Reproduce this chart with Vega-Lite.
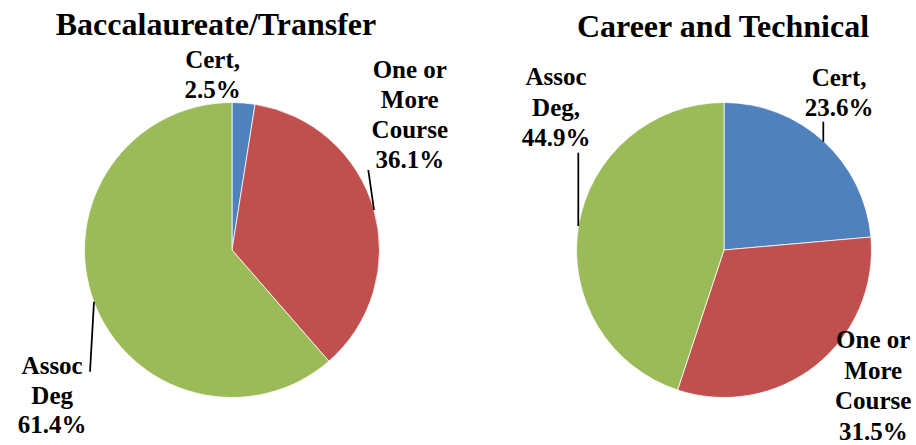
{
  "$schema": "https://vega.github.io/schema/vega-lite/v6.json",
  "width": 916,
  "height": 390,
  "autosize": {"type": "none"},
  "padding": {"top": 55, "left": 0, "right": 0, "bottom": 0},
  "config": {"view": {"stroke": null}, "text": {"font": "Liberation Serif", "fontSize": 25, "fontWeight": "bold", "lineHeight": 30, "align": "center", "baseline": "alphabetic", "color": "black"}},
  "data": {"values": [
    {"chart": "Baccalaureate/Transfer", "category": "Cert", "value": 2.5, "rank": 1, "label": ["Cert,", "2.5%"]},
    {"chart": "Baccalaureate/Transfer", "category": "One or More Course", "value": 36.1, "rank": 2, "label": ["One or", "More", "Course", "36.1%"]},
    {"chart": "Baccalaureate/Transfer", "category": "Assoc Deg", "value": 61.4, "rank": 3, "label": ["Assoc", "Deg", "61.4%"]},
    {"chart": "Career and Technical", "category": "Cert", "value": 23.6, "rank": 1, "label": ["Cert,", "23.6%"]},
    {"chart": "Career and Technical", "category": "One or More Course", "value": 31.5, "rank": 2, "label": ["One or", "More", "Course", "31.5%"]},
    {"chart": "Career and Technical", "category": "Assoc Deg", "value": 44.9, "rank": 3, "label": ["Assoc", "Deg,", "44.9%"]}
  ]},
  "layer": [
    {"transform": [{"filter": "datum.chart === 'Baccalaureate/Transfer'"}],
     "mark": {"type": "arc", "outerRadius": 147.5, "stroke": "white", "strokeWidth": 0.75},
     "encoding": {
       "x": {"field": "chart", "type": "nominal", "axis": null, "scale": {"type": "point", "domain": ["Baccalaureate/Transfer", "Career and Technical"], "range": [232, 724], "padding": 0}},
       "theta": {"field": "value", "type": "quantitative", "stack": true},
       "order": {"field": "rank", "type": "quantitative"},
       "color": {"field": "category", "type": "nominal", "legend": null, "scale": {"domain": ["Cert", "One or More Course", "Assoc Deg"], "range": ["#4F81BD", "#C0504D", "#9BBB59"]}}}},
    {"transform": [{"filter": "datum.chart === 'Career and Technical'"}],
     "mark": {"type": "arc", "outerRadius": 147.5, "stroke": "white", "strokeWidth": 0.75},
     "encoding": {
       "x": {"field": "chart", "type": "nominal", "axis": null},
       "theta": {"field": "value", "type": "quantitative", "stack": true},
       "order": {"field": "rank", "type": "quantitative"},
       "color": {"field": "category", "type": "nominal", "legend": null}}},

    {"transform": [{"filter": "datum.chart === 'Baccalaureate/Transfer'"}],
     "mark": {"type": "text", "radius": 160, "dx": -32, "dy": -22.5},
     "encoding": {"x": {"field": "chart", "type": "nominal"}, "theta": {"field": "value", "type": "quantitative", "stack": true}, "order": {"field": "rank", "type": "quantitative"}, "detail": {"field": "category"},
       "text": {"condition": {"test": "datum.category === 'Cert'", "field": "label"}, "value": ""}}},
    {"transform": [{"filter": "datum.chart === 'Baccalaureate/Transfer'"}],
     "mark": {"type": "text", "radius": 160, "dx": 24, "dy": -127.9},
     "encoding": {"x": {"field": "chart", "type": "nominal"}, "theta": {"field": "value", "type": "quantitative", "stack": true}, "order": {"field": "rank", "type": "quantitative"}, "detail": {"field": "category"},
       "text": {"condition": {"test": "datum.category === 'One or More Course'", "field": "label"}, "value": ""}}},
    {"transform": [{"filter": "datum.chart === 'Baccalaureate/Transfer'"}],
     "mark": {"type": "text", "radius": 160, "dx": -30, "dy": 68, "lineHeight": 29.5},
     "encoding": {"x": {"field": "chart", "type": "nominal"}, "theta": {"field": "value", "type": "quantitative", "stack": true}, "order": {"field": "rank", "type": "quantitative"}, "detail": {"field": "category"},
       "text": {"condition": {"test": "datum.category === 'Assoc Deg'", "field": "label"}, "value": ""}}},
    {"transform": [{"filter": "datum.chart === 'Career and Technical'"}],
     "mark": {"type": "text", "radius": 160, "dx": 7, "dy": -46},
     "encoding": {"x": {"field": "chart", "type": "nominal"}, "theta": {"field": "value", "type": "quantitative", "stack": true}, "order": {"field": "rank", "type": "quantitative"}, "detail": {"field": "category"},
       "text": {"condition": {"test": "datum.category === 'Cert'", "field": "label"}, "value": ""}}},
    {"transform": [{"filter": "datum.chart === 'Career and Technical'"}],
     "mark": {"type": "text", "radius": 160, "dx": 50, "dy": -27.3, "lineHeight": 30.5},
     "encoding": {"x": {"field": "chart", "type": "nominal"}, "theta": {"field": "value", "type": "quantitative", "stack": true}, "order": {"field": "rank", "type": "quantitative"}, "detail": {"field": "category"},
       "text": {"condition": {"test": "datum.category === 'One or More Course'", "field": "label"}, "value": ""}}},
    {"transform": [{"filter": "datum.chart === 'Career and Technical'"}],
     "mark": {"type": "text", "radius": 160, "dx": -10, "dy": -139.4, "lineHeight": 30.5},
     "encoding": {"x": {"field": "chart", "type": "nominal"}, "theta": {"field": "value", "type": "quantitative", "stack": true}, "order": {"field": "rank", "type": "quantitative"}, "detail": {"field": "category"},
       "text": {"condition": {"test": "datum.category === 'Assoc Deg'", "field": "label"}, "value": ""}}},

    {"transform": [{"filter": "datum.chart === 'Baccalaureate/Transfer' && datum.category === 'Cert'"}],
     "mark": {"type": "text", "radius": 215, "theta": 0, "dx": -16, "fontSize": 32},
     "encoding": {"x": {"field": "chart", "type": "nominal"}, "text": {"field": "chart"}}},
    {"transform": [{"filter": "datum.chart === 'Career and Technical' && datum.category === 'Cert'"}],
     "mark": {"type": "text", "radius": 213, "theta": 0, "dx": -1, "fontSize": 32},
     "encoding": {"x": {"field": "chart", "type": "nominal"}, "text": {"field": "chart"}}},

    {"transform": [{"filter": "datum.chart === 'Baccalaureate/Transfer' && datum.category === 'One or More Course'"}],
     "mark": {"type": "rule", "xOffset": 136.3, "x2Offset": 142, "strokeWidth": 1.75, "color": "black"},
     "encoding": {"x": {"field": "chart", "type": "nominal"}, "x2": {"field": "chart"}, "y": {"value": 115}, "y2": {"value": 155}}},
    {"transform": [{"filter": "datum.chart === 'Baccalaureate/Transfer' && datum.category === 'Assoc Deg'"}],
     "mark": {"type": "rule", "xOffset": -138, "x2Offset": -142, "strokeWidth": 1.75, "color": "black"},
     "encoding": {"x": {"field": "chart", "type": "nominal"}, "x2": {"field": "chart"}, "y": {"value": 246.7}, "y2": {"value": 316.7}}},
    {"transform": [{"filter": "datum.chart === 'Career and Technical' && datum.category === 'Cert'"}],
     "mark": {"type": "rule", "xOffset": 99.3, "x2Offset": 99.3, "strokeWidth": 1.75, "color": "black"},
     "encoding": {"x": {"field": "chart", "type": "nominal"}, "x2": {"field": "chart"}, "y": {"value": 66.7}, "y2": {"value": 86.7}}},
    {"transform": [{"filter": "datum.chart === 'Career and Technical' && datum.category === 'Assoc Deg'"}],
     "mark": {"type": "rule", "xOffset": -145.7, "x2Offset": -145.7, "strokeWidth": 1.75, "color": "black"},
     "encoding": {"x": {"field": "chart", "type": "nominal"}, "x2": {"field": "chart"}, "y": {"value": 97.7}, "y2": {"value": 171}}}
  ]
}
